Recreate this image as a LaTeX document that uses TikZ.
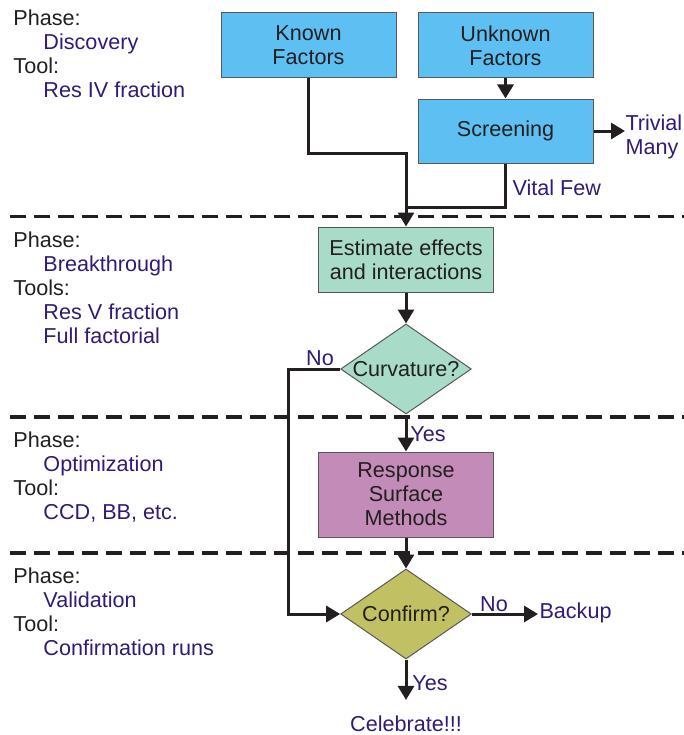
\documentclass[tikz,border=0pt]{standalone}
\usepackage{fontspec}
\setmainfont{Liberation Sans}
\usetikzlibrary{shapes.geometric,arrows.meta}

\definecolor{boxblue}{RGB}{94,191,242}
\definecolor{boxmint}{RGB}{168,220,200}
\definecolor{boxmauve}{RGB}{195,139,184}
\definecolor{boxolive}{RGB}{193,193,99}
\definecolor{labelink}{RGB}{50,26,118}
\definecolor{darkink}{RGB}{35,31,32}

\tikzset{every picture/.style={line width=0.75pt}}
\tikzset{
  stepbox/.style={draw=darkink!75, line width=0.75pt, minimum width=131.25pt, minimum height=48.75pt, inner sep=0pt, align=center, text=darkink},
  decide/.style={diamond, draw=darkink!75, line width=0.75pt, inner sep=0pt, minimum width=98pt, minimum height=67.5pt, text=darkink},
  flow/.style={draw=darkink, line width=2.25pt},
  arrowflow/.style={flow, -{Triangle[length=10.5pt,width=12pt]}},
  phaseline/.style={draw=darkink, line width=2.6pt, dash pattern=on 12pt off 6pt},
  outcome/.style={text=labelink, inner sep=0.75pt},
  sidenote/.style={anchor=north west, align=left, inner sep=0pt, text=darkink},
}
\newcommand{\phaseitem}[1]{\hspace*{22.5pt}{\color{labelink}#1}}

\begin{document}
\begin{tikzpicture}[x=0.75pt,y=0.75pt,yscale=-1,xscale=1,font=\fontsize{16.2}{18}\selectfont]
    \useasboundingbox (0,0) rectangle (684,735);

    %Phase separators
    \draw [phaseline] (10,216.5) -- (690,216.5) ;
    \draw [phaseline] (10,417) -- (690,417) ;
    \draw [phaseline] (10,553) -- (690,553) ;

    %Boxes and decisions
    \node [stepbox, fill=boxblue] (known) at (308.5,45.5) {Known\\Factors};
    \node [stepbox, fill=boxblue] (unknown) at (505.5,45.5) {Unknown\\Factors};
    \node [stepbox, fill=boxblue, minimum height=48pt] (screen) at (505.5,131) {Screening};
    \node [stepbox, fill=boxmint] (est) at (406,259.5) {Estimate effects\\and interactions};
    \node [decide, fill=boxmint] (curv) at (406,369) {\makebox[0pt]{Curvature?}};
    \node [stepbox, fill=boxmauve, minimum height=63.75pt] (rsm) at (406,494.5) {Response\\Surface\\Methods};
    \node [decide, fill=boxolive] (conf) at (406,614) {\makebox[0pt]{Confirm?}};

    %Outcome texts
    \node [outcome, anchor=west, align=left, inner sep=0pt] (trivial) at (625,137) {Trivial\\Many};
    \node [outcome, anchor=west] (backup) at (538,613) {Backup};
    \node [outcome] (celeb) at (406,724) {Celebrate!!!};

    %Bend points
    \coordinate (kbend) at (406,153);
    \coordinate (merge) at (406,207);
    \coordinate (nobend) at (288,369);

    %Connectors
    \draw [arrowflow] (unknown.south) -- (screen.north) ;
    \draw [arrowflow] (screen.east) -- (screen.east -| trivial.west) ;
    \draw [flow] (screen.south) |- (merge) ;
    \draw [arrowflow] (known.south) |- (kbend) -- (est.north) ;
    \draw [arrowflow] (est.south) -- (curv.north) ;
    \draw [arrowflow] (curv.south) -- (rsm.north) ;
    \draw [arrowflow] (curv.west) -- (nobend) |- (conf.west) ;
    \draw [arrowflow] (rsm.south) -- (conf.north) ;
    \draw [arrowflow] (conf.east) -- (conf.east -| backup.west) ;
    \draw [arrowflow, shorten >=11pt] (conf.south) -- (celeb.north) ;

    %Connector labels
    \node [outcome, anchor=west] (vital) at (511,188) {Vital Few};
    \node [outcome] (curvno) at (320,358) {No};
    \node [outcome] (curvyes) at (428,434) {Yes};
    \node [outcome] (confno) at (494,604) {No};
    \node [outcome] (confyes) at (430,683) {Yes};

    %Phase notes
    \node [sidenote] (discovery) at (13,9) {Phase:\\\phaseitem{Discovery}\\Tool:\\\phaseitem{Res IV fraction}};
    \node [sidenote] (breakthrough) at (13,231) {Phase:\\\phaseitem{Breakthrough}\\Tools:\\\phaseitem{Res V fraction}\\\phaseitem{Full factorial}};
    \node [sidenote] (optimization) at (13,431) {Phase:\\\phaseitem{Optimization}\\Tool:\\\phaseitem{CCD, BB, etc.}};
    \node [sidenote] (validation) at (13,567) {Phase:\\\phaseitem{Validation}\\Tool:\\\phaseitem{Confirmation runs}};

\end{tikzpicture}
\end{document}
